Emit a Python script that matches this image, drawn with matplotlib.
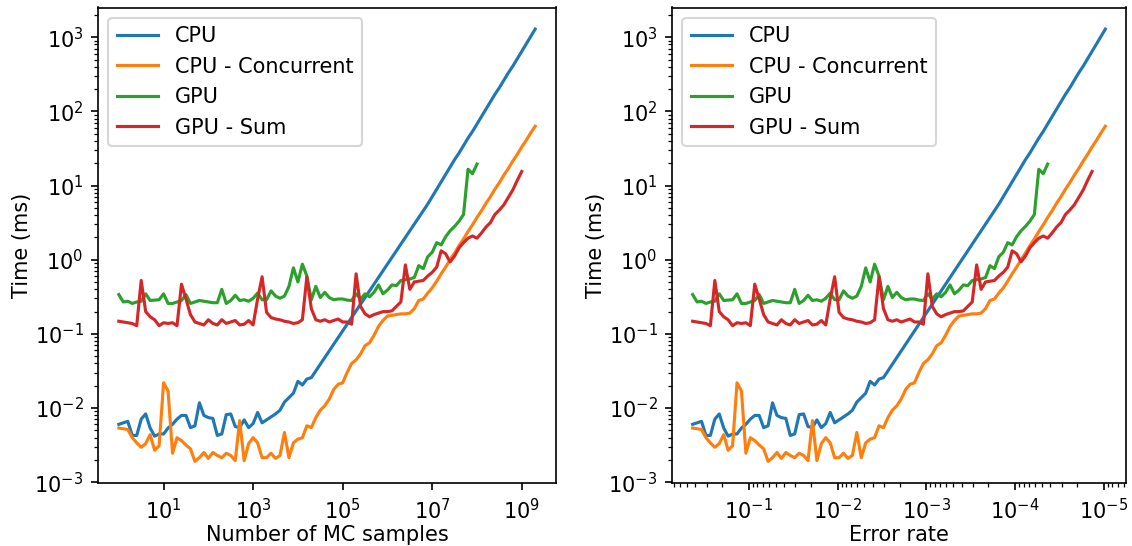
import numpy as np
import matplotlib
matplotlib.use("Agg")
import matplotlib.pyplot as plt

# Number of Monte-Carlo samples (x grid, ~10 points per decade, 1 .. 2e9)
n_samples = np.logspace(0, 9.3, 94)
error_scale = 0.43  # error rate = error_scale / sqrt(N)

# log10 of time in ms
cpu_log = [-2.22, -2.20, -2.18, -2.37, -2.37, -2.15, -2.08, -2.27, -2.38, -2.35,
           -2.35, -2.27, -2.22, -2.15, -2.10, -2.10, -2.265, -2.24, -1.93, -2.10,
           -2.13, -2.14, -2.37, -2.35, -2.09, -2.08, -2.25, -2.265, -2.16, -2.265,
           -2.21, -2.06, -2.20, -2.16, -2.12, -2.08, -2.03, -1.92, -1.86, -1.80,
           -1.64, -1.69, -1.61, -1.59, -1.50, -1.41, -1.32, -1.23, -1.14, -1.05,
           -0.96, -0.87, -0.78, -0.69, -0.60, -0.51, -0.42, -0.33, -0.24, -0.15,
           -0.06, 0.03, 0.12, 0.21, 0.30, 0.39, 0.48, 0.57, 0.66, 0.75,
           0.85, 0.95, 1.05, 1.15, 1.25, 1.35, 1.44, 1.54, 1.64, 1.73,
           1.83, 1.93, 2.03, 2.13, 2.23, 2.32, 2.42, 2.52, 2.61, 2.71,
           2.81, 2.91, 3.01, 3.11]

cpu_conc_log = [-2.27, -2.28, -2.29, -2.40, -2.47, -2.53, -2.48, -2.36, -2.57, -2.51,
                -1.66, -1.77, -2.61, -2.40, -2.44, -2.50, -2.55, -2.72, -2.67, -2.60,
                -2.68, -2.60, -2.64, -2.67, -2.61, -2.64, -2.71, -2.17, -2.71, -2.48,
                -2.40, -2.47, -2.67, -2.67, -2.61, -2.68, -2.64, -2.33, -2.67, -2.47,
                -2.42, -2.40, -2.24, -2.265, -2.13, -2.03, -1.97, -1.88, -1.75, -1.68,
                -1.66, -1.52, -1.40, -1.35, -1.27, -1.16, -1.12, -1.02, -0.90, -0.82,
                -0.76, -0.75, -0.74, -0.73, -0.73, -0.72, -0.66, -0.55, -0.53, -0.45,
                -0.38, -0.29, -0.19, -0.10, 0.00, 0.09, 0.19, 0.28, 0.38, 0.47,
                0.57, 0.66, 0.76, 0.85, 0.95, 1.04, 1.14, 1.23, 1.33, 1.42,
                1.52, 1.61, 1.71, 1.80]

gpu_log = [-0.47, -0.57, -0.56, -0.59, -0.57, -0.56, -0.46, -0.55, -0.545, -0.54,
           -0.46, -0.59, -0.59, -0.57, -0.55, -0.47, -0.59, -0.57, -0.55, -0.56,
           -0.57, -0.58, -0.58, -0.40, -0.59, -0.55, -0.48, -0.55, -0.54, -0.56,
           -0.52, -0.45, -0.54, -0.54, -0.42, -0.49, -0.52, -0.49, -0.36, -0.11,
           -0.30, -0.06, -0.22, -0.54, -0.36, -0.51, -0.44, -0.51, -0.54, -0.53,
           -0.53, -0.545, -0.55, -0.46, -0.53, -0.46, -0.50, -0.44, -0.34, -0.46,
           -0.41, -0.34, -0.35, -0.28, -0.27, -0.26, -0.24, -0.08, -0.12, 0.04,
           0.10, 0.23, 0.20, 0.31, 0.39, 0.45, 0.52, 0.61, 1.22, 1.16,
           1.29]

gpu_sum_log = [-0.83, -0.84, -0.85, -0.86, -0.89, -0.28, -0.70, -0.77, -0.81, -0.89,
               -0.85, -0.86, -0.85, -0.89, -0.33, -0.53, -0.74, -0.84, -0.86, -0.88,
               -0.81, -0.86, -0.88, -0.81, -0.86, -0.84, -0.82, -0.88, -0.87, -0.82,
               -0.88, -0.53, -0.23, -0.71, -0.78, -0.80, -0.81, -0.83, -0.84, -0.86,
               -0.85, -0.81, -0.23, -0.66, -0.81, -0.83, -0.81, -0.84, -0.82, -0.80,
               -0.84, -0.84, -0.87, -0.19, -0.63, -0.73, -0.77, -0.74, -0.72, -0.70,
               -0.70, -0.69, -0.63, -0.57, -0.07, -0.40, -0.30, -0.29, -0.28, -0.22,
               -0.17, -0.10, 0.12, 0.08, -0.03, 0.05, 0.16, 0.23, 0.29, 0.32,
               0.29, 0.36, 0.44, 0.50, 0.61, 0.67, 0.74, 0.84, 0.94, 1.07,
               1.19]

series = [
    ("CPU", cpu_log, "#1f77b4"),
    ("CPU - Concurrent", cpu_conc_log, "#ff7f0e"),
    ("GPU", gpu_log, "#2ca02c"),
    ("GPU - Sum", gpu_sum_log, "#d62728"),
]

fig = plt.figure(figsize=(1132 / 150, 546 / 150), dpi=150)
ax1 = fig.add_axes([98 / 1132, 1 - 483 / 546, 458 / 1132, 475.5 / 546])
ax2 = fig.add_axes([672 / 1132, 1 - 483 / 546, 454 / 1132, 475.5 / 546])

for name, vals, col in series:
    vals = np.array(vals)
    n = n_samples[:len(vals)]
    t = 10.0 ** vals
    ax1.plot(n, t, color=col, label=name)
    ax2.plot(error_scale / np.sqrt(n), t, color=col, label=name)

for ax in (ax1, ax2):
    ax.set_xscale("log")
    ax.set_yscale("log")
    ax.set_ylabel("Time (ms)", labelpad=1)
    ax.legend(loc="upper left")

ax1.set_xlabel("Number of MC samples", labelpad=1)
ax2.set_xlabel("Error rate", labelpad=1)
ax2.invert_xaxis()

fig.savefig("out.png", dpi=150)
